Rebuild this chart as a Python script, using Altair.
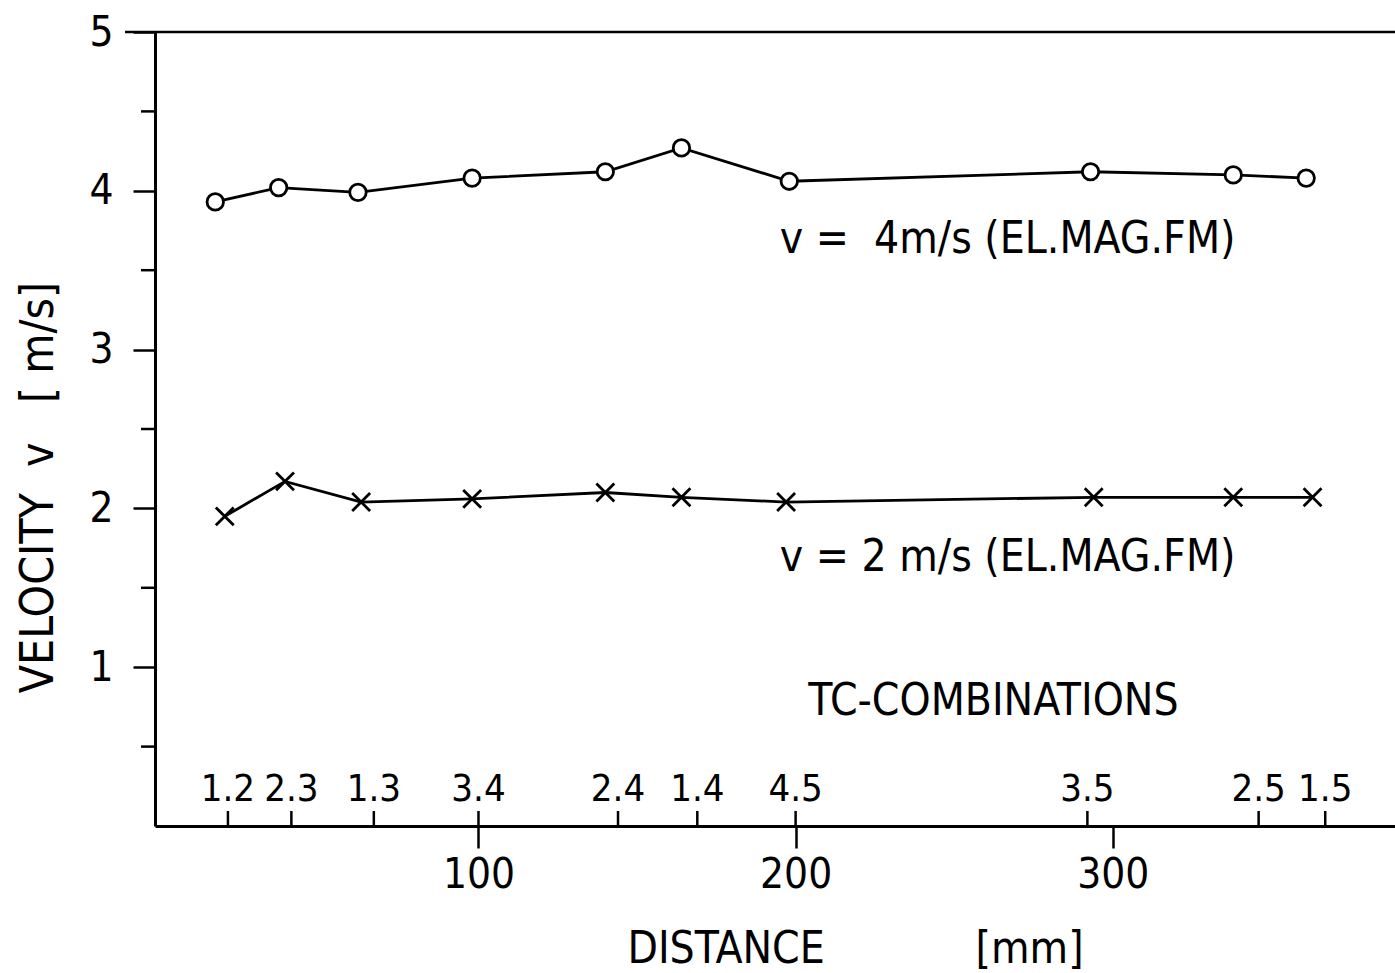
import altair as alt
import pandas as pd

# ---- data ----
dist_4 = [17, 37, 62, 98, 140, 164, 198, 293, 338, 361]
vel_4 = [3.93, 4.02, 3.99, 4.08, 4.12, 4.27, 4.06, 4.12, 4.10, 4.08]

dist_2 = [20, 39, 63, 98, 140, 164, 197, 294, 338, 363]
vel_2 = [1.95, 2.17, 2.04, 2.06, 2.10, 2.07, 2.04, 2.07, 2.07, 2.07]

tc_labels = ["1.2", "2.3", "1.3", "3.4", "2.4", "1.4", "4.5", "3.5", "2.5", "1.5"]
tc_dist = [21, 41, 67, 100, 144, 169, 200, 292, 346, 367]

y_major = [1, 2, 3, 4, 5]
y_minor = [0.5, 1.5, 2.5, 3.5, 4.5]
x_ticks = [100, 200, 300]

ann_text = ["v =\u00a0\u00a04m/s (EL.MAG.FM)", "v = 2 m/s (EL.MAG.FM)", "TC-COMBINATIONS"]
ann_x = [195, 195, 204]
ann_y = [3.69, 1.69, 0.78]

FONT = "Liberation Sans Narrow, DejaVu Sans Condensed, sans-serif"
W, H = 1240, 794
XDOM = [-2, 389]
YDOM = [0, 5]

df4 = pd.DataFrame({"d": dist_4, "v": vel_4})
df2 = pd.DataFrame({"d": dist_2, "v": vel_2})
dtc = pd.DataFrame({"d": tc_dist, "lab": tc_labels})
dminor = pd.DataFrame({"v": y_minor})
dann = pd.DataFrame({"t": ann_text, "d": ann_x, "v": ann_y})
dtop = pd.DataFrame({"v": [5]})

xs = alt.Scale(domain=XDOM, nice=False, zero=False)
ys = alt.Scale(domain=YDOM, nice=False)

x_axis = alt.Axis(
    values=x_ticks, format="d", tickSize=22, tickWidth=2.5, tickColor="black",
    domainColor="black", domainWidth=3, labelFont=FONT, labelFontSize=42,
    labelColor="black", labelPadding=6, grid=False,
    title="DISTANCE\u00a0\u00a0\u00a0\u00a0\u00a0\u00a0\u00a0\u00a0\u00a0\u00a0\u00a0\u00a0[mm]",
    titleFont=FONT, titleFontSize=44, titleFontWeight="normal", titleColor="black",
    titleX=700, titleY=136, titleBaseline="alphabetic", titleAlign="center",
)
y_axis = alt.Axis(
    values=y_major, format="d", tickSize=22, tickWidth=2.5, tickColor="black",
    domainColor="black", domainWidth=3, labelFont=FONT, labelFontSize=42,
    labelColor="black", labelPadding=20, grid=False,
    title="VELOCITY\u00a0\u00a0v\u00a0\u00a0\u00a0[\u00a0m/s]",
    titleFont=FONT, titleFontSize=46, titleFontWeight="normal", titleColor="black",
    titleAngle=-90, titleX=-117, titleY=455, titleBaseline="middle", titleAlign="center",
)

base_x = alt.X("d:Q", scale=xs, axis=x_axis)
base_y = alt.Y("v:Q", scale=ys, axis=y_axis)

line4 = alt.Chart(df4).mark_line(color="black", strokeWidth=2.8).encode(x=base_x, y=base_y)
pts4 = alt.Chart(df4).mark_point(shape="circle", size=270, filled=True, fill="white",
                                 stroke="black", strokeWidth=2.8, opacity=1).encode(
    x=alt.X("d:Q", scale=xs), y=alt.Y("v:Q", scale=ys))

line2 = alt.Chart(df2).mark_line(color="black", strokeWidth=2.8).encode(
    x=alt.X("d:Q", scale=xs), y=alt.Y("v:Q", scale=ys))
pts2 = alt.Chart(df2).mark_point(shape="M-1,-1L1,1M-1,1L1,-1", size=320, filled=False,
                                 stroke="black", strokeWidth=2.8, opacity=1).encode(
    x=alt.X("d:Q", scale=xs), y=alt.Y("v:Q", scale=ys))

top_rule = alt.Chart(dtop).mark_rule(color="black", strokeWidth=2.5).encode(
    y=alt.Y("v:Q", scale=ys), x=alt.value(-30), x2=alt.value(W))

minor = alt.Chart(dminor).mark_rule(color="black", strokeWidth=2.5).encode(
    y=alt.Y("v:Q", scale=ys), x=alt.value(-14), x2=alt.value(0))

tc_ticks = alt.Chart(dtc).mark_rule(color="black", strokeWidth=2.5).encode(
    x=alt.X("d:Q", scale=xs), y=alt.value(H - 15), y2=alt.value(H))
tc_text = alt.Chart(dtc).mark_text(font=FONT, fontSize=38, color="black",
                                   baseline="middle", align="center").encode(
    x=alt.X("d:Q", scale=xs), y=alt.value(H - 36), text="lab:N")

ann = alt.Chart(dann).mark_text(font=FONT, fontSize=44, color="black",
                                baseline="middle", align="left").encode(
    x=alt.X("d:Q", scale=xs), y=alt.Y("v:Q", scale=ys), text="t:N")

chart = alt.layer(line4, pts4, line2, pts2, top_rule, minor, tc_ticks, tc_text, ann).properties(
    width=W, height=H,
    padding={"left": 155, "top": 32, "right": 0, "bottom": 147},
    autosize=alt.AutoSizeParams(type="none"),
    background="white",
).configure_view(stroke=None)

chart.save("out.html", embed_options={"renderer": "svg", "actions": False})
